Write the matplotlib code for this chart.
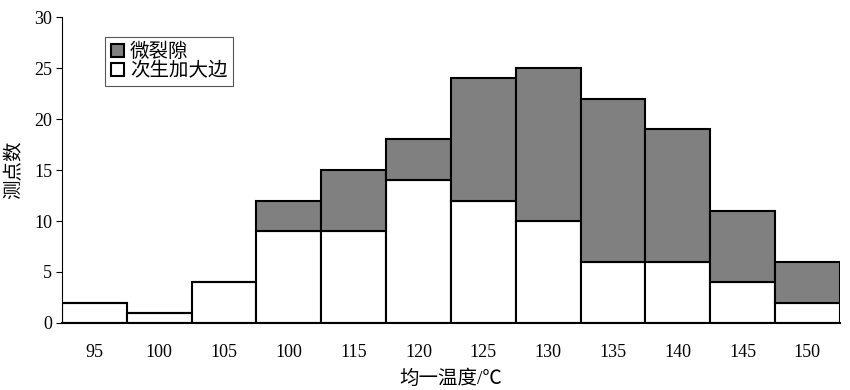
import matplotlib.pyplot as plt
import numpy as np

plt.rcParams['font.family'] = ['Liberation Serif', 'Noto Sans CJK SC']

temps = ["95", "100", "105", "100", "115", "120", "125", "130", "135", "140", "145", "150"]
overgrowth = [2, 1, 4, 9, 9, 14, 12, 10, 6, 6, 4, 2]      # 次生加大边
microcrack = [0, 0, 0, 3, 6, 4, 12, 15, 16, 13, 7, 4]     # 微裂隙

x = np.arange(len(temps))

fig = plt.figure(figsize=(8.5, 3.9), dpi=100)
ax = fig.add_axes([0.073, 0.172, 0.915, 0.784])

ax.bar(x, overgrowth, width=1.0, color="white", edgecolor="black", linewidth=1.5,
       label="次生加大边", zorder=2)
ax.bar(x, microcrack, width=1.0, bottom=overgrowth, color="#808080", edgecolor="black",
       linewidth=1.5, label="微裂隙", zorder=2)

ax.set_xlim(-0.5, len(temps) - 0.5)
ax.set_ylim(0, 30)
ax.set_yticks(range(0, 31, 5))
ax.set_xticks(x)
ax.set_xticklabels(temps)
ax.tick_params(axis="x", length=0, pad=15, labelsize=13)
ax.tick_params(axis="y", direction="out", length=4, labelsize=13, pad=3)
for lab in ax.get_xticklabels() + ax.get_yticklabels():
    lab.set_fontfamily("Liberation Serif")

for s in ["top", "right"]:
    ax.spines[s].set_visible(False)
ax.spines["left"].set_linewidth(0.8)
ax.spines["bottom"].set_linewidth(1.5)

ax.set_xlabel("均一温度/℃", fontsize=14, labelpad=6)
ax.set_ylabel("测点数", fontsize=14, labelpad=8)

handles, labels = ax.get_legend_handles_labels()
leg = ax.legend(handles[::-1], labels[::-1], loc="upper left", bbox_to_anchor=(0.055, 0.935),
                fancybox=False, framealpha=1, edgecolor="#555555", fontsize=14,
                handlelength=0.7, handleheight=0.7, handletextpad=0.3,
                borderpad=0.3, labelspacing=0.05, borderaxespad=0)
leg.get_frame().set_linewidth(0.8)

fig.savefig("out.png", dpi=100)
